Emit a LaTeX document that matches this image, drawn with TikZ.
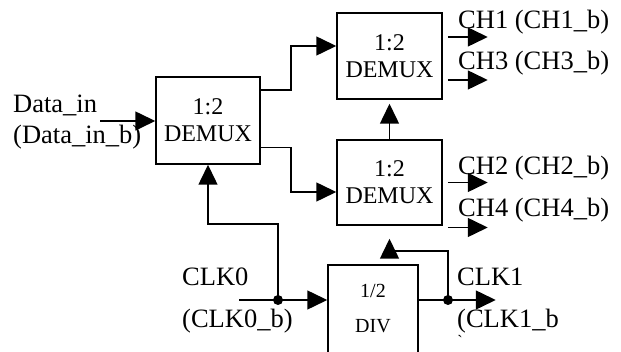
\documentclass[tikz,border=0pt]{standalone}
\usepackage{fontspec}
\setmainfont{Liberation Serif}
\usetikzlibrary{arrows.meta,positioning,calc}
\newcommand{\fsz}[2]{\fontsize{#1}{#2}\selectfont}

\begin{document}
\begin{tikzpicture}[x=1pt, y=-1pt,
      blk/.style={draw=black, line width=1.5pt, align=center, inner sep=0pt, font=\fsz{24}{27}},
      lbl/.style={align=left, inner sep=0pt, anchor=west, font=\fsz{26.5}{31}},
      wire/.style={line width=1.5pt},
      arr/.style={wire, -{Triangle[length=20pt,width=19pt]}},
      dot/.style={fill=black}
    ]
      \useasboundingbox (0,0) rectangle (621,352);
      \node[blk, minimum width=104pt, minimum height=87pt] (dmxa) at (208,120.5) {1:2\\DEMUX};
      \node[blk, minimum width=105pt, minimum height=86pt] (dmxb) at (389.5,56) {1:2\\DEMUX};
      \node[blk, minimum width=105pt, minimum height=85pt] (dmxc) at (389.5,182.5) {1:2\\DEMUX};
      \node[blk, minimum width=90pt, minimum height=88pt, font=\fsz{20}{35}] (div) at (373,309) {1/2\\DIV};

      \node[lbl] (dinl) at (13,122) {Data\_in\\(Data\_in\_b)};
      \node[lbl] (ch1) at (458,22) {CH1 (CH1\_b)};
      \node[lbl] (ch3) at (458,63) {CH3 (CH3\_b)};
      \node[lbl] (ch2) at (458,168) {CH2 (CH2\_b)};
      \node[lbl] (ch4) at (458,210) {CH4 (CH4\_b)};
      \node[lbl, font=\fsz{26.5}{42}] (clk0l) at (182,301) {CLK0\\(CLK0\_b)};
      \node[lbl, font=\fsz{26.5}{42}] (clk1l) at (457,301) {CLK1\\(CLK1\_b};
      \node[inner sep=0pt, font=\fsz{16}{16}] (tick) at (460,341) {\textasciigrave};

      \coordinate (din) at (100,121);
      \coordinate (clk0) at (239,300);
      \coordinate (ck0) at (278,300);
      \coordinate (ck1) at (448,300);

      \draw[arr] (din) -- (din -| dmxa.west);
      \draw[arr] ([yshift=-14pt]dmxa.north east) -- ++(30,0) |- ([yshift=10pt]dmxb.west);
      \draw[arr] ([yshift=17pt]dmxa.south east) -- ++(30,0) |- ([yshift=-9.5pt]dmxc.west);
      \draw[arr, shorten >=4pt] (dmxc.north) -- (dmxb.south);

      \draw[arr] ([xshift=5pt,yshift=19pt]dmxb.east) -- ++(40,0);
      \draw[arr] ([xshift=5pt,yshift=-24pt]dmxb.east) -- ++(40,0);
      \draw[arr] ([xshift=5pt]dmxc.east) -- ++(40,0);
      \draw[arr] ([xshift=5pt,yshift=-45pt]dmxc.east) -- ++(40,0);

      \draw[arr] (clk0) -- (clk0 -| div.west);
      \draw[arr] (ck0) -- ++(0,-76) -| (dmxa.south);
      \draw[arr] (ck1 -| div.east) -- ++(77,0);
      \draw[arr, shorten >=13pt] (ck1) -- ++(0,-49) -| (dmxc.south);
      \fill[dot] (ck0) circle[radius=5pt];
      \fill[dot] (ck1) circle[radius=5pt];
    \end{tikzpicture}
\end{document}
